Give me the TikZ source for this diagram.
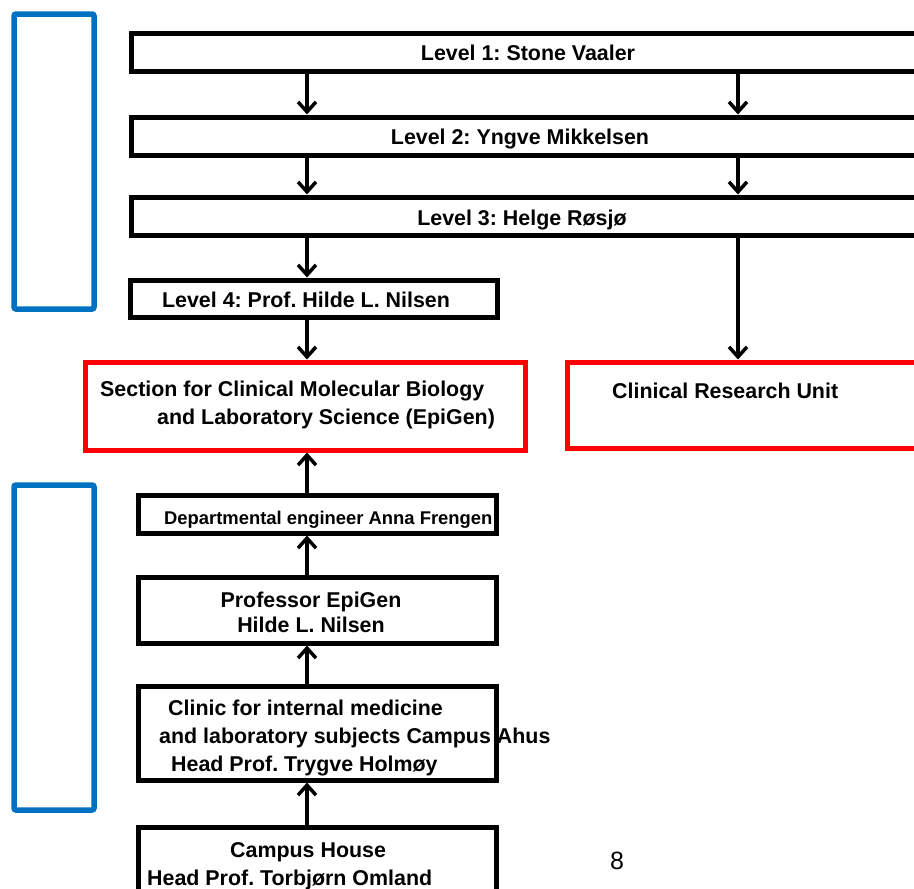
\documentclass[tikz,border=0pt]{standalone}
\usepackage{fontspec}
\setmainfont{Liberation Sans}
\usetikzlibrary{arrows.meta}
\definecolor{cadrebleu}{RGB}{0,112,192}
\definecolor{cadrerouge}{RGB}{255,0,0}
\frenchspacing
\begin{document}
\begin{tikzpicture}[x=1pt, y=-1pt,
    boite/.style={draw=black, line width=5pt, inner sep=0pt},
    rouge/.style={draw=cadrerouge, line width=5pt, inner sep=0pt},
    bleu/.style={draw=cadrebleu, line width=5.5pt, rounded corners=2pt},
    texte/.style={font=\fontsize{21.4}{28}\selectfont\bfseries, inner sep=0pt},
    fleche/.style={line width=3.5pt, -{Straight Barb[length=10pt, width=18pt]}}
]
\useasboundingbox (0,0) rectangle (914,889);
\clip (0,0) rectangle (914,889);

% 1. Les deux cadres bleus a gauche
\draw[bleu] (14,14) rectangle (94,309);
\draw[bleu] (14,485) rectangle (94,810);

% 2. Les niveaux 1 a 4
\node[boite, minimum width=786, minimum height=38] (niv1) at (524,52) {};
\node[boite, minimum width=786, minimum height=38] (niv2) at (524,136) {};
\node[boite, minimum width=786, minimum height=38] (niv3) at (524,216) {};
\node[boite, minimum width=367, minimum height=37] (niv4) at (313.5,298.5) {};

\node[texte] (t1) at (528,53) {Level 1: Stone Vaaler};
\node[texte] (t2) at (520,139) {Level 2: Yngve Mikkelsen};
\node[texte] (t3) at (522,220) {Level 3: Helge Røsjø};
\node[texte] (t4) at (306,300) {Level 4: Prof. Hilde L. Nilsen};

% 3. Les deux unites (cadres rouges)
\node[rouge, minimum width=440, minimum height=88] (section) at (305,406) {};
\node[rouge, minimum width=353, minimum height=86] (cru) at (743.5,405) {};

\node[texte, anchor=west, align=left] (tsection) at (100,405)
    {Section for Clinical Molecular Biology\\\hspace*{57pt}and Laboratory Science (EpiGen)};
\node[texte, anchor=west] (tcru) at (612,391) {Clinical Research Unit};

% 4. La chaine du bas
\node[boite, minimum width=358, minimum height=38] (ingenieur) at (317,514) {};
\node[boite, minimum width=358, minimum height=66] (professeur) at (317,610) {};
\node[boite, minimum width=358, minimum height=94] (clinique) at (317,733) {};
\node[boite, minimum width=358, minimum height=73] (campus) at (317,863.5) {};

\node[texte, font=\fontsize{18.4}{22}\selectfont\bfseries, anchor=west] (tingenieur) at (164,520)
    {Departmental engineer Anna Frengen};
\node[texte, align=center, font=\fontsize{21.4}{25}\selectfont\bfseries] (tprofesseur) at (311,612)
    {Professor EpiGen\\Hilde L. Nilsen};
\node[texte, anchor=west, align=left] (tclinique) at (159,738)
    {\hspace*{9pt}Clinic for internal medicine\\and laboratory subjects Campus Ahus\\\hspace*{12pt}Head Prof. Trygve Holmøy};
\node[texte, anchor=west, align=left] (tcampus) at (147,866)
    {\hspace*{83pt}Campus House\\Head Prof. Torbjørn Omland};

\node[font=\fontsize{25}{28}\selectfont, inner sep=0pt] (page) at (617,861) {8};

% 5. Les fleches
\coordinate (xg) at (307,0);
\coordinate (xd) at (738,0);
\draw[fleche] (niv1.south -| xg) -- (niv2.north -| xg);
\draw[fleche] (niv1.south -| xd) -- (niv2.north -| xd);
\draw[fleche] (niv2.south -| xg) -- (niv3.north -| xg);
\draw[fleche] (niv2.south -| xd) -- (niv3.north -| xd);
\draw[fleche] (niv3.south -| xg) -- (niv4.north -| xg);
\draw[fleche] (niv3.south -| xd) -- (cru.north -| xd);
\draw[fleche] (niv4.south -| xg) -- (section.north -| xg);
\draw[fleche] (ingenieur.north -| xg) -- (section.south -| xg);
\draw[fleche] (professeur.north -| xg) -- (ingenieur.south -| xg);
\draw[fleche] (clinique.north -| xg) -- (professeur.south -| xg);
\draw[fleche] (campus.north -| xg) -- (clinique.south -| xg);
\end{tikzpicture}
\end{document}
